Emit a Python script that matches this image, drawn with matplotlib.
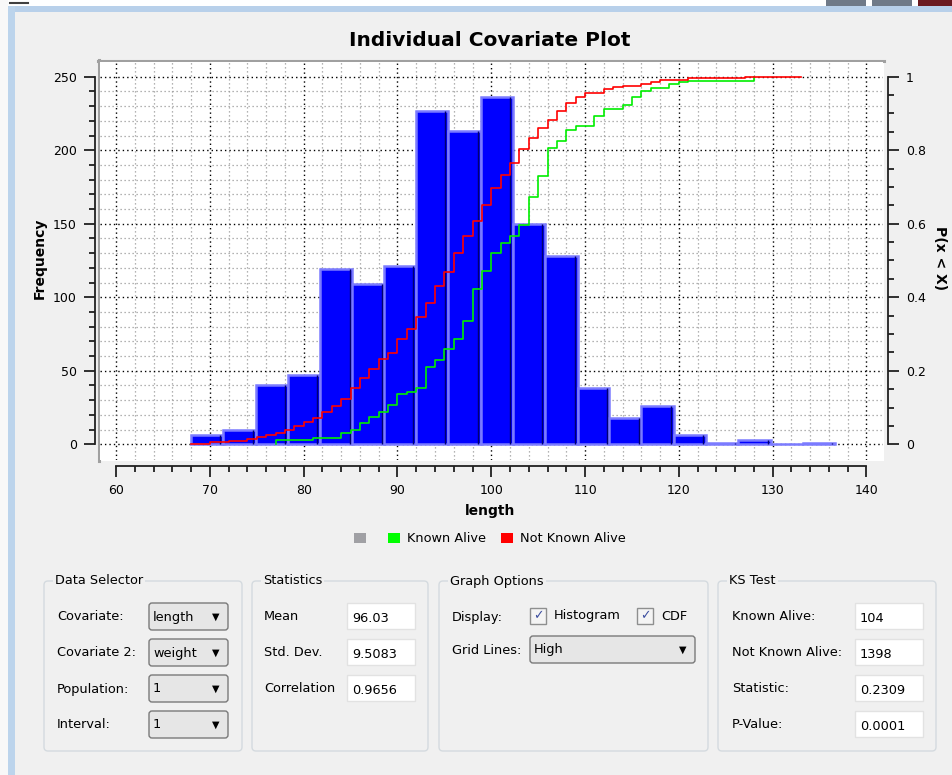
import matplotlib
matplotlib.use("Agg")
import matplotlib.pyplot as plt
import numpy as np
from matplotlib.patches import Rectangle, FancyBboxPatch, Patch
from matplotlib.ticker import MultipleLocator, FixedLocator

# histogram of length (20 bins)
bin_edges = [68.0, 71.4, 74.9, 78.3, 81.7, 85.2, 88.6, 92.0, 95.4, 98.9, 102.3,
             105.7, 109.2, 112.6, 116.0, 119.5, 122.9, 126.3, 129.8, 133.2, 136.6]
counts = [6, 10, 40, 47, 119, 109, 121, 227, 213, 236,
          150, 128, 38, 18, 26, 6, 1, 3, 0, 1]

# CDF - not known alive (red)
nka_x = [68, 70, 72, 74, 75, 76, 77, 78, 79, 80, 81, 82, 83, 84, 85, 86, 87, 88, 89, 90,
         91, 92, 93, 94, 95, 96, 97, 98, 99, 100, 101, 102, 103, 104, 105, 106, 107, 108,
         109, 110, 112, 113, 114, 116, 117, 118, 121, 127, 133]
nka_p = [0, .005, .009, .014, .020, .025, .032, .039, .050, .061, .072, .088, .104, .124,
         .154, .181, .204, .231, .249, .286, .314, .347, .385, .430, .468, .521, .566, .607,
         .652, .698, .732, .765, .803, .833, .860, .883, .906, .928, .945, .957, .966, .972,
         .976, .981, .985, .992, .996, 1.0, 1.0]

# CDF - known alive (green)
ka_x = [77, 77, 81, 84, 85, 86, 87, 88, 89, 90, 91, 92, 93, 94, 95, 96, 97, 98, 99, 100,
        101, 102, 103, 104, 105, 106, 107, 108, 109, 111, 112, 114, 115, 116, 117, 119,
        120, 121, 128]
ka_p = [0, .012, .018, .030, .039, .057, .075, .088, .106, .136, .143, .154, .211, .229,
        .260, .287, .335, .423, .471, .521, .548, .566, .596, .672, .731, .806, .826, .856,
        .865, .892, .912, .924, .944, .960, .969, .981, .985, .989, 1.0]

legend_names = ["", "Known Alive", "Not Known Alive"]
legend_colors = ["#a0a0a4", "#00ff00", "#ff0000"]

# panels under the plot
sel_labels = ["Covariate:", "Covariate 2:", "Population:", "Interval:"]
sel_values = ["length", "weight", "1", "1"]
stat_labels = ["Mean", "Std. Dev.", "Correlation"]
stat_values = ["96.03", "9.5083", "0.9656"]
ks_labels = ["Known Alive:", "Not Known Alive:", "Statistic:", "P-Value:"]
ks_values = ["104", "1398", "0.2309", "0.0001"]
row_y = [617, 653, 689, 725]

W, H = 953, 775
BG = "#f0f0f0"
FS = 9.3
fig = plt.figure(figsize=(W / 100, H / 100), dpi=100, facecolor=BG)

def fx(x):
    return x / W

def fy(y):
    return 1 - y / H

# pixel-space overlay for the window parts
ui = fig.add_axes([0, 0, 1, 1])
ui.set_xlim(0, W)
ui.set_ylim(H, 0)
ui.axis("off")

ui.add_patch(Rectangle((0, 0), W, 6, color="white", lw=0))
ui.add_patch(Rectangle((8, 6), W, 6, color="#b8d0ea", lw=0))
ui.add_patch(Rectangle((0, 0), 8, H, color="#f8f8f8", lw=0))
ui.add_patch(Rectangle((8, 6), 7, H, color="#bcd4ec", lw=0))
ui.plot([10, 28], [2.5, 2.5], color="#404040", lw=1.5)
for bx, col in [(826, "#707a88"), (872, "#707a88"), (918, "#6b1a20")]:
    ui.add_patch(Rectangle((bx, 0), 40 if bx < 918 else 35, 6, color=col, lw=0))

# canvas frame (sunken)
ui.add_patch(Rectangle((98, 60), 786, 401, facecolor="white", edgecolor="none"))
ui.plot([98, 884], [61, 61], color="#a0a0a0", lw=2.2)
ui.plot([99, 99], [60, 461], color="#a0a0a0", lw=2.2)


def group_box(x0, x1, title):
    ui.add_patch(FancyBboxPatch((x0, 581), x1 - x0, 170,
                                boxstyle="round,pad=0,rounding_size=4",
                                facecolor=BG, edgecolor="#d4dadf", lw=1))
    ui.text(x0 + 11, 581, title, fontsize=FS, va="center", ha="left",
            bbox=dict(facecolor=BG, edgecolor="none", pad=1.5))


def combo(x0, x1, y, text):
    ui.add_patch(FancyBboxPatch((x0, y - 14), x1 - x0, 27,
                                boxstyle="round,pad=0,rounding_size=3",
                                facecolor="#e6e6e6", edgecolor="#7a7a7a", lw=1))
    ui.text(x0 + 4, y, text, fontsize=FS, va="center", ha="left")
    ui.text(x1 - 12, y, "\u25bc", fontsize=7, va="center", ha="center")


def text_box(x0, x1, y, text):
    ui.add_patch(Rectangle((x0, y - 14), x1 - x0, 26, facecolor="white",
                           edgecolor="#e2e2e2", lw=1))
    ui.text(x0 + 5, y + 1, text, fontsize=FS, va="center", ha="left")


def check_box(x0, y, label):
    ui.add_patch(Rectangle((x0, y - 8), 16, 16, facecolor="#f4f4f4",
                           edgecolor="#8e8f8f", lw=1))
    ui.text(x0 + 8, y, "\u2713", fontsize=9, color="#3d4fa0", va="center",
            ha="center", fontweight="bold")
    ui.text(x0 + 24, y, label, fontsize=FS, va="center", ha="left")


group_box(44, 242, "Data Selector")
for lab, val, y in zip(sel_labels, sel_values, row_y):
    ui.text(57, y, lab, fontsize=FS, va="center", ha="left")
    combo(149, 228, y, val)

group_box(252, 428, "Statistics")
for lab, val, y in zip(stat_labels, stat_values, row_y):
    ui.text(264, y, lab, fontsize=FS, va="center", ha="left")
    text_box(347, 415, y, val)

group_box(439, 708, "Graph Options")
ui.text(452, 617, "Display:", fontsize=FS, va="center", ha="left")
check_box(530, 616, "Histogram")
check_box(637, 616, "CDF")
ui.text(452, 650, "Grid Lines:", fontsize=FS, va="center", ha="left")
combo(530, 695, 650, "High")

group_box(718, 936, "KS Test")
for lab, val, y in zip(ks_labels, ks_values, row_y):
    ui.text(732, y, lab, fontsize=FS, va="center", ha="left")
    text_box(855, 923, y, val)

# ---- the plot ----
ax = fig.add_axes([fx(100), fy(460), (883 - 100) / W, (460 - 61.7) / H])
ax.set_facecolor("white")
ax.set_xlim(58.29, 141.76)
ax.set_ylim(-10.68, 260.2)
ax.set_axisbelow(True)

widths = np.diff(bin_edges)
ax.bar(bin_edges[:-1], counts, width=widths, align="edge",
       color="#0000ff", edgecolor="#7b7bff", linewidth=1.8, zorder=2)
# dark shading on the right side of each bar
ax.vlines(np.array(bin_edges[1:]) - 0.3, 0, counts, color="#000070", lw=1.0,
          zorder=2.5)

ax.xaxis.set_major_locator(MultipleLocator(10))
ax.xaxis.set_minor_locator(FixedLocator(np.arange(62, 140, 2)))
ax.yaxis.set_major_locator(FixedLocator([0, 50, 100, 150, 200, 250]))
ax.yaxis.set_minor_locator(FixedLocator(np.arange(10, 250, 10)))
ax.grid(which="major", color="#000000", linestyle=(0, (1, 2.2)), linewidth=1.0)
ax.grid(which="minor", color="#9a9a9a", linestyle=(0, (1, 2.2)), linewidth=0.9)

for s in ["top", "right"]:
    ax.spines[s].set_visible(False)
ax.spines["left"].set_bounds(0, 250)
ax.spines["left"].set_position(("outward", 3.6))
ax.spines["bottom"].set_bounds(60, 140)
ax.spines["bottom"].set_position(("outward", 4.3))
for s in ["left", "bottom"]:
    ax.spines[s].set_linewidth(1.3)
    ax.spines[s].set_color("#202020")
ax.tick_params(which="major", length=8, width=1.3, color="#202020", pad=5,
               labelsize=9)
ax.tick_params(which="minor", length=4.5, width=1.3, color="#202020")

ax.set_xlabel("length", fontsize=10, fontweight="bold")
ax.xaxis.set_label_coords((490 - 100) / 783, (460 - 511) / 398.3)
ax.xaxis.label.set_verticalalignment("center")
ax.set_ylabel("Frequency", fontsize=10, fontweight="bold")
ax.yaxis.set_label_coords((40 - 100) / 783, (460 - 258) / 398.3)
ax.yaxis.label.set_verticalalignment("center")

ax2 = ax.twinx()
ax2.set_ylim(-10.68 / 250, 260.2 / 250)
ax2.step(ka_x, ka_p, where="post", color="#00ee00", lw=1.2, zorder=3)
ax2.step(nka_x, nka_p, where="post", color="#ff0000", lw=1.2, zorder=3)
for s in ["top", "left", "bottom"]:
    ax2.spines[s].set_visible(False)
ax2.spines["right"].set_bounds(0, 1)
ax2.spines["right"].set_position(("outward", 3.6))
ax2.spines["right"].set_linewidth(1.3)
ax2.spines["right"].set_color("#202020")
ax2.yaxis.set_major_locator(FixedLocator([0, 0.2, 0.4, 0.6, 0.8, 1.0]))
ax2.set_yticklabels(["0", "0.2", "0.4", "0.6", "0.8", "1"])
ax2.yaxis.set_minor_locator(FixedLocator(np.arange(0.05, 1.0, 0.05)))
ax2.tick_params(which="major", length=8, width=1.3, color="#202020", pad=5,
                labelsize=9)
ax2.tick_params(which="minor", length=4.5, width=1.3, color="#202020")
ax2.set_ylabel("P(x < X)", fontsize=10, fontweight="bold", rotation=-90)
ax2.yaxis.set_label_coords((940 - 100) / 783, (460 - 258) / 398.3)
ax2.yaxis.label.set_verticalalignment("center")
ax2.yaxis.label.set_horizontalalignment("center")

fig.suptitle("Individual Covariate Plot", x=fx(490), y=fy(41), va="center",
             fontsize=14.5, fontweight="bold")

handles = [Patch(facecolor=c, edgecolor="none") for c in legend_colors]
fig.legend(handles, legend_names, loc="center", ncol=3, frameon=False,
           bbox_to_anchor=(fx(490), fy(539)), fontsize=FS, borderpad=0,
           handlelength=0.9, handleheight=0.9, handletextpad=0.55,
           columnspacing=1.2)

fig.savefig("out.png", dpi=100, facecolor=BG)
